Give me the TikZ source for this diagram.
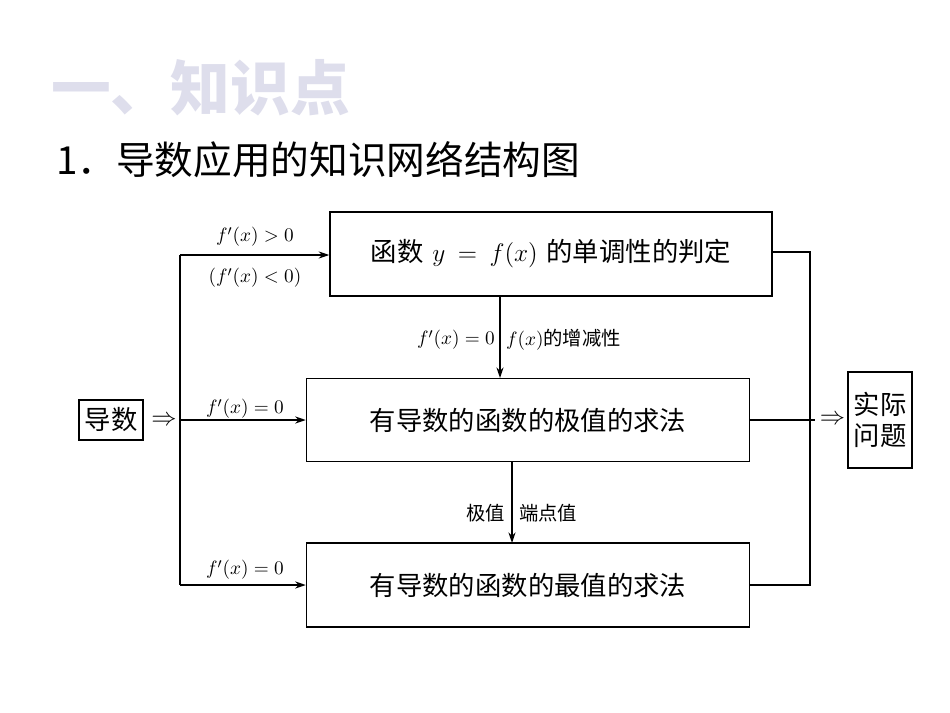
\documentclass[tikz,border=0pt]{standalone}
\usepackage{fontspec}
\newfontfamily\cjk{Noto Sans CJK SC}
\usetikzlibrary{arrows.meta}
\begin{document}
\begin{tikzpicture}[x=0.02cm,y=-0.02cm,
  bx/.style={draw,line width=0.9pt,inner sep=0pt,font=\cjk\fontsize{15}{18}\selectfont},
  lab/.style={font=\fontsize{11}{13}\selectfont,inner sep=1pt},
  ln/.style={line width=0.8pt},
  ar/.style={line width=0.8pt,-{Stealth[length=6pt,width=4pt]}}]
\useasboundingbox (0,0) rectangle (950,713);
\node[anchor=west,text={rgb,255:red,222;green,222;blue,236},font=\cjk\bfseries\fontsize{34}{38}\selectfont] (title) at (45,88) {一、知识点};
\node[anchor=west,font=\cjk\fontsize{22}{26}\selectfont] (sub) at (50,160) {1．导数应用的知识网络结构图};
\node[bx,text width=8.84cm,minimum height=1.68cm,align=center] (b1) at (551,254) {函数 $y=f(x)$ 的单调性的判定};
\node[bx,text width=8.86cm,minimum height=1.66cm,align=center] (b2) at (528,420) {有导数的函数的极值的求法};
\node[bx,text width=8.86cm,minimum height=1.68cm,align=center] (b3) at (528,585) {有导数的函数的最值的求法};
\node[bx,minimum width=1.28cm,minimum height=0.8cm] (d) at (111,420) {导数};
\node[bx,minimum width=1.28cm,minimum height=1.92cm,align=center] (s) at (880,420) {实际\\问题};
\node[font=\Large] (imp) at (164,421) {$\Rightarrow$};
\coordinate (t) at (180,255);
\coordinate (m) at (180,420);
\coordinate (u) at (180,585);
\draw[ln] (t) -- (u);
\draw[ar] (t) -- (t -| b1.west);
\draw[ar] (m) -- (b2.west);
\draw[ar] (u) -- (b3.west);
\node[lab] (l1) at (255,237) {$f'(x)>0$};
\node[lab] (l2) at (255,278) {$(f'(x)<0)$};
\node[lab] (l3) at (245,409) {$f'(x)=0$};
\node[lab] (l4) at (245,570) {$f'(x)=0$};
\coordinate (a1) at (500,296);
\coordinate (a2) at (500,378);
\draw[ar] (a1) -- (a2);
\node[lab,anchor=east] (l5) at (497,340) {$f'(x)=0$};
\node[lab,anchor=west,font=\cjk\fontsize{11}{13}\selectfont] (l6) at (504,340) {$f(x)$的增减性};
\coordinate (c1) at (512,461);
\coordinate (c2) at (512,543);
\draw[ar] (c1) -- (c2);
\node[lab,anchor=east,font=\cjk\fontsize{11}{13}\selectfont] (l7) at (507,513) {极值};
\node[lab,anchor=west,font=\cjk\fontsize{11}{13}\selectfont] (l8) at (517,513) {端点值};
\coordinate (r1) at (810,252);
\coordinate (r2) at (810,585);
\draw[ln] (b1.east |- r1) -- (r1) -- (r2) -- (b3.east |- r2);
\draw[ln] (b2.east) -- (815,420);
\node[font=\Large,inner sep=1pt,anchor=east] (imp2) at (s.west) {$\Rightarrow$};
\end{tikzpicture}
\end{document}
